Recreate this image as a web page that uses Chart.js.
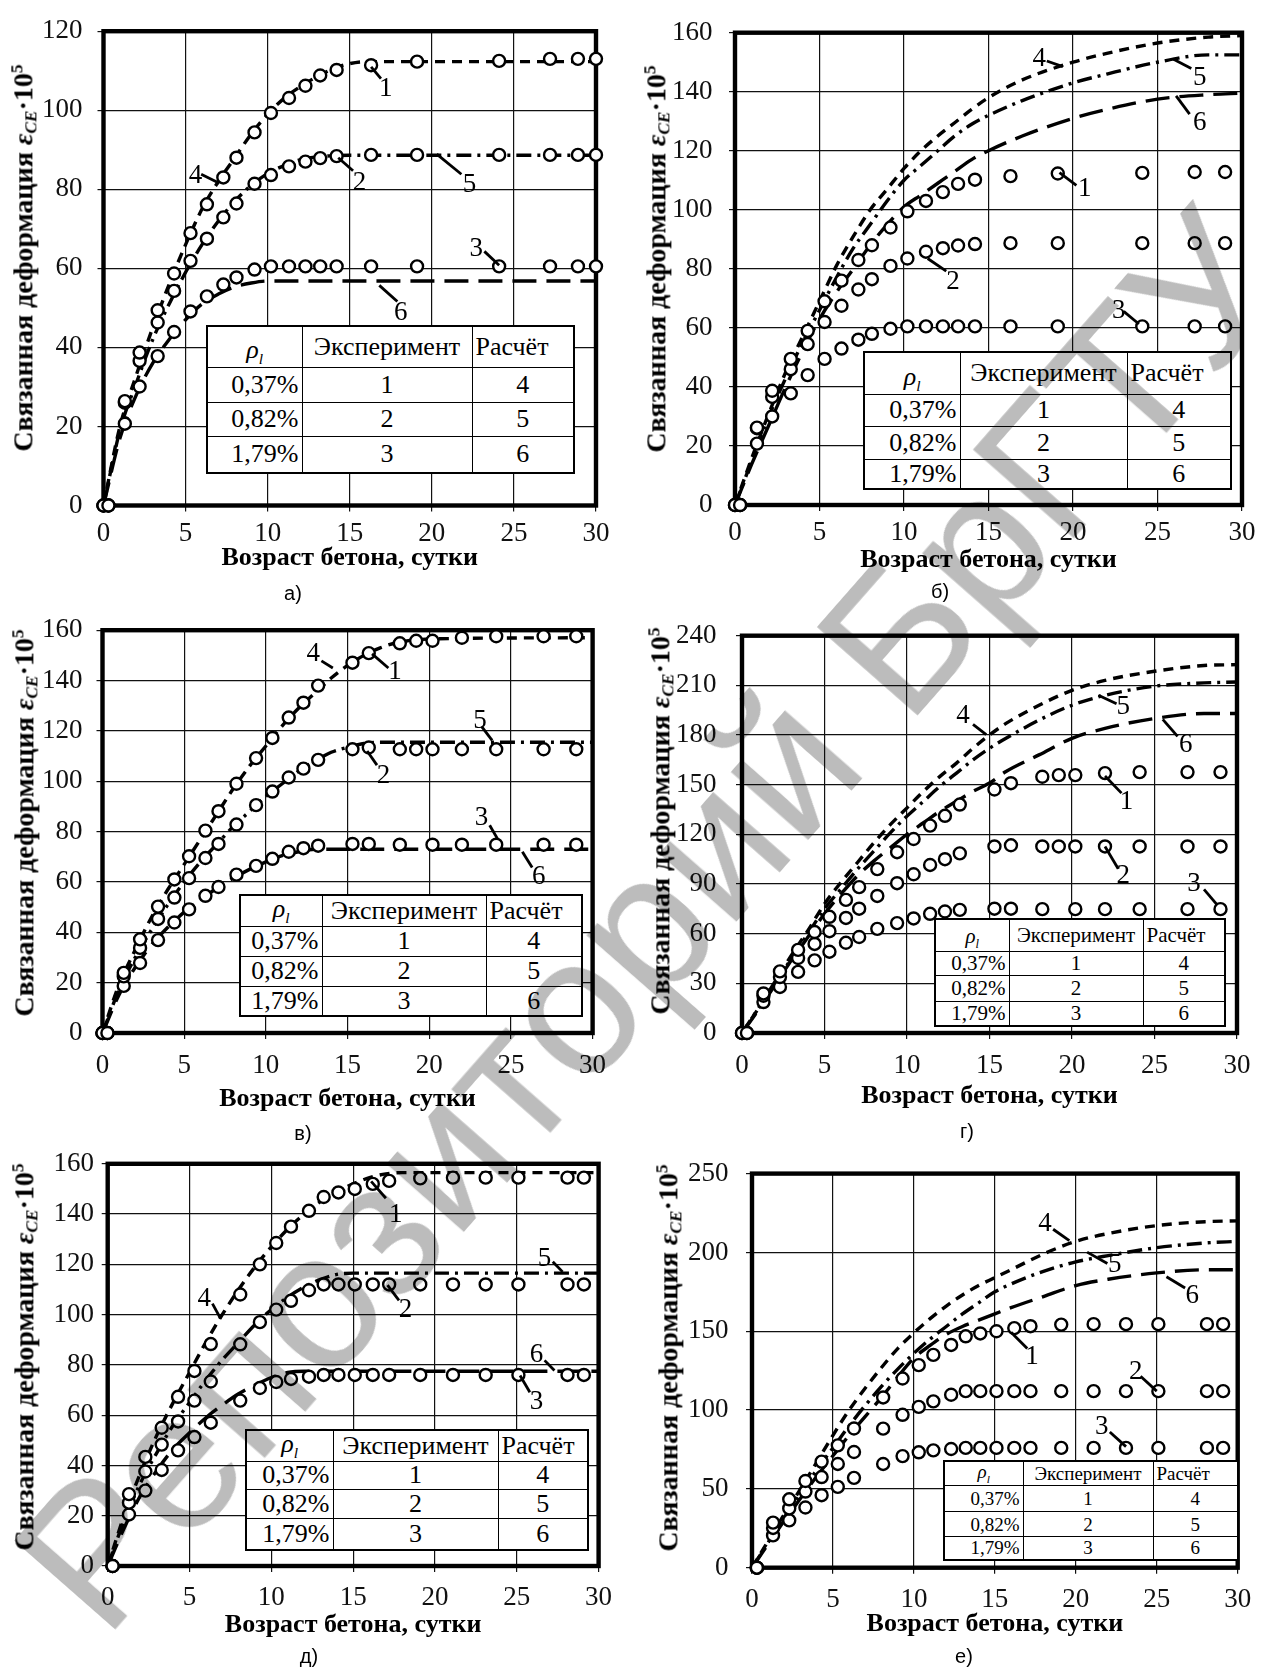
<!DOCTYPE html>
<html><head><meta charset="utf-8">
<script src="https://cdn.jsdelivr.net/npm/chart.js@4.4.1/dist/chart.umd.min.js"></script>
<style>
html,body{margin:0;padding:0;background:#fff}
body{width:1261px;height:1670px;position:relative;overflow:hidden;font-family:'Liberation Serif','Times New Roman',serif;color:#000}
canvas{position:absolute}
.yt{position:absolute;transform:translate(-50%,-50%) rotate(-90deg);white-space:nowrap;font-weight:bold;font-size:28px;line-height:1}
.yt sub{font-size:0.62em;vertical-align:-0.25em}
.yt sup{font-size:0.62em;vertical-align:0.55em}
table.leg{position:absolute;border-collapse:collapse;background:#fff;table-layout:fixed;border:2.5px solid #000}
table.leg td{border:1.5px solid #000;padding:0 3px;line-height:1;white-space:nowrap;overflow:hidden}
table.leg td.r{text-align:right}
table.leg td.c{text-align:center}
table.leg td.l{text-align:left}
table.leg td.h{text-align:center;vertical-align:bottom;font-style:italic}
table.leg sub{font-size:0.6em}
.pl{position:absolute;transform:translate(-50%,-50%);font-family:'Liberation Sans Narrow','Liberation Sans',Arial,sans-serif;font-size:20px}
.wm{position:absolute;transform:translate(-50%,-50%) rotate(-48.7deg);white-space:nowrap;font-family:'Liberation Sans',Arial,sans-serif;font-size:195px;color:#bcbcbc;mix-blend-mode:multiply;pointer-events:none;line-height:1}
</style></head>
<body>
<script>
// ---------- DATA ----------
const xTicks = [0,5,10,15,20,25,30];
const rowLabels = ['0,37%','0,82%','1,79%'];
const expNums = ['1','2','3'];
const calcNums = ['4','5','6'];

// panel а)
const daysA = [0,0.3,1.3,2.2,3.3,4.3,5.3,6.3,7.3,8.1,9.2,10.2,11.3,12.3,13.2,14.2,16.3,19.1,24.1,27.2,28.9,30];
const expA1 = [0,0,26.4,38.7,49.4,58.7,68.9,76.2,83,88,94.4,99.3,103.1,106.2,108.8,110.2,111.4,112.3,112.5,113,113,113];
const expA2 = [0,0,26,36.6,46.3,54.3,61.9,67.5,72.9,76.4,81.4,83.6,85.8,87,87.9,88.4,88.7,88.7,88.7,88.7,88.7,88.7];
const expA3 = [0,0,20.7,30.1,37.8,43.9,49.1,52.9,55.9,57.7,59.7,60.5,60.5,60.5,60.5,60.5,60.5,60.5,60.5,60.5,60.5,60.5];
const calcDaysA = [0,1,2,3,4,5,6,7,8,9,10,11,12,13,14,15,16,30];
const calcA4 = [0,20,33,45,56,66,75,82,88,94,99,103,106,108.5,110.5,111.8,112.3,112.3];
const calcA5 = [0,19,31,42,51,59,66,72,77,81,84,86,87.5,88.2,88.5,88.6,88.6,88.6];
const calcDaysA6 = [0,1,2,3,4,5,6,7,8,9,10,11,30];
const calcA6 = [0,17,28,36,42,47,51,53.5,55.3,56.3,56.8,56.8,56.8];

// panel б)
const daysB = [0,0.3,1.3,2.2,3.3,4.3,5.3,6.3,7.3,8.1,9.2,10.2,11.3,12.3,13.2,14.2,16.3,19.1,24.1,27.2,29];
const expB1 = [0,0,26.2,38.7,49.5,59,69,76,83,88,94,99.5,103,106,108.8,110.2,111.4,112.3,112.5,112.8,112.8];
const expB2 = [0,0,26,36.6,46,54.5,62,67.5,73,76.5,81,83.5,85.8,87,87.9,88.4,88.7,88.7,88.7,88.7,88.7];
const expB3 = [0,0,20.8,30,37.8,44,49.5,53,56,58,59.7,60.5,60.5,60.5,60.5,60.5,60.5,60.5,60.5,60.5,60.5];
const calcDaysB = [0,1,2,3,4,5,6,7,8,9,10,11,12,13,14,15,17,20,22,25,28,30];
const calcB4 = [0,16,31,45,57,69,81,91,100,107,114,120,125,129.5,134,138,144,150,153,156.5,158.5,159];
const calcB5 = [0,15,30,43,55,66,77,87,95,103,110,115,120,125,129,132,137,143,146,150,152.5,152.5];
const calcB6 = [0,14,27,40,52,63,72,80,88,95,101,105,109,113,117,120,125,131,134,137.5,139,139.5];

// panels в) and г) (same experiment)
const daysC = [0,0.3,1.3,2.3,3.4,4.4,5.3,6.3,7.1,8.2,9.4,10.4,11.4,12.3,13.2,15.3,16.3,18.2,19.2,20.2,22,24.1,27,29];
const expC1 = [0,0,23.9,37.2,50.2,61,70.2,80.4,88.1,99,109.2,117.2,125.3,131.2,138,147.1,150.9,154.8,155.8,155.8,157,157.6,157.6,157.6];
const expC2 = [0,0,22.5,33.8,45.3,53.8,61.5,69.5,75.1,82.8,90.5,95.9,101.5,105,108.5,112.7,113.4,112.7,112.7,112.7,112.7,112.7,112.7,112.7];
const expC3 = [0,0,18.7,27.8,36.9,43.9,49.1,54.5,58,62.9,66.4,69.2,72,73.4,74.4,75.1,75.1,74.8,null,74.8,74.8,74.8,74.8,74.8];
const calcDaysC = [0,1,2,3,4,5,6,7,8,9,10,11,12,13,14,15,16,17,18,20,30];
const calcC4 = [0,19,33,46,57,67,77,87,97,106,114,122,129,135,141,146,150,153,155,156.5,157];
const calcC5 = [0,17,30,41,51,60,68,75,82,88,94,99,104,108,111.5,113.5,115,115.5,115.5,115.5,115.5];
const calcC6 = [0,15,26,35,42,48,53,57.5,61.5,65,68,70.5,72,73,73,73,73,73,73,73,73];

const calcDaysD = [0,1,2,3,4,5,6,7,8,9,10,11,12,13,14,15,16,18,20,22,25,28,30];
const calcD4 = [0,15,31,47,62,78,91,103,115,126,136,146,155,163,172,180,187,198,207,213,218.5,222,222.5];
const calcD5 = [0,15,30,45,60,75,87,99,110,121,131,140,149,157,165,172,178,189,198,204,209.5,211.5,212];
const calcD6 = [0,14,29,44,58,72,84,95,104,112,120,127,134,140,146,151,158,168,178,184,190,193,193];

// panels д) and е) (same experiment)
const daysE = [0.3,1.3,2.3,3.3,4.3,5.3,6.3,8.1,9.3,10.3,11.2,12.3,13.2,14.1,15.1,16.2,17.2,19.1,21.1,23.1,25.1,28.1,29.1];
const expE1 = [0,28.6,43.4,55,67.3,77.6,88.3,108,120,128.5,135,141.3,146.8,148.6,150,152,153.2,154.2,154.5,154.5,154.5,154.5,154.5];
const expE2 = [0,25.2,37.6,48.3,57.5,65.8,73.4,88.2,97,102,105.5,109.7,112,112,112,112,112,112,112,112,112,112,112];
const expE3 = [0,20.5,30,38.2,46,51.3,57,65.8,70.8,73.2,74.4,75.3,76,76,76,76,76,76,76,76,76,76,76];
const calcDaysE = [0,1,2,3,4,5,6,7,8,9,10,11,12,13,14,15,16,17,18,30];
const calcE4 = [0,20,37,52,65,77,89,100,110,119,127,134,140,145,149,152,154.5,156,156.5,156.5];
const calcE5 = [0,18,33,45,56,65,74,82,89,96,102,107,111,114,116,116.5,116.5,116.5,116.5,116.5];
const calcE6 = [0,15,28,38,46.5,53,59,64,68.5,72,75,77,77.5,77.5,77.5,77.5,77.5,77.5,77.5,77.5];

const calcDaysF = [0,1,2,3,4,5,6,7,8,9,10,11,12,13,14,15,16,18,20,22,25,28,30];
const calcF4 = [0,17,34,50,67,84,100,114,127,139,149,158,166,173,179,184,189,199,207,212,217,219.5,220];
const calcF5 = [0,16,32,47,62,76,90,103,115,126,136,145,153,161,168,175,180,188,194,198,203,206,207];
const calcF6 = [0,15,30,44,58,71,84,96,108,121,133,141,148,153,157,161,165,172,179,183,187,189,189];

// curve number labels: [text, labelX, labelY, leaderX1, leaderY1, leaderX2, leaderY2] in data units
const notesA = [['1',17.2,105.5,16.3,111,16.9,108],['2',15.6,81.5,14.3,88,15.2,84.7],['3',22.7,65,23.2,64.3,24.1,60.8],
  ['4',5.6,83.3,5.95,83.8,7.06,81.5],['5',22.3,81,20.3,88.9,21.8,83.8],['6',18.1,48.8,16.8,55.7,17.9,51.6]];
const notesB = [['4',18,151,18.45,150.4,19.4,148.5],['5',27.5,144.8,25.95,151,27,147.9],['6',27.5,129.3,26.1,138.6,26.9,132.4],
  ['1',20.7,107,19.2,112.6,20.2,108.3],['2',12.9,75.5,11.4,83.5,12.5,79.2],['3',22.7,65.6,23,65.6,23.9,61.3]];
const notesC = [['4',12.9,150.6,13.4,147.8,14.1,145],['1',17.9,143.6,16.5,150.6,17.5,145],['5',23.1,124,23.2,121.8,23.85,116.2],
  ['2',17.2,102,16.2,112,16.8,106.4],['3',23.2,85.3,23.7,82.5,24.2,76.9],['6',26.7,62.2,25.7,72,26.3,65.7]];
const notesD = [['4',13.4,191.6,14,186.4,14.8,180.2],['5',23.1,196.8,21.6,204,22.7,198.9],['6',26.9,174,25.5,189.5,26.4,179.2],
  ['1',23.3,139.7,22,155.3,23,144.9],['2',23.1,95,22,112.7,22.8,99.2],['3',27.4,89.9,28,86.8,28.8,77.4]];
const notesE = [['1',17.6,139.6,16.1,153,17,146.3],['4',5.9,106.4,6.4,104.4,6.9,98.4],['5',26.7,122.3,27.2,121,27.8,117],
  ['2',18.2,101.7,17.1,111.7,17.8,105.7],['6',26.2,83.8,26.7,81.8,27.3,77.8],['3',26.2,65.2,25.2,75.8,25.8,69.1]];
const notesF = [['4',18.1,217.8,18.6,214.7,19.6,207.5],['5',22.4,191.9,20.7,200.2,21.95,193],['6',27.2,172.2,25.6,184.6,26.75,177.4],
  ['1',17.3,133.8,16,149.4,17,139],['2',23.7,124.5,24,121.4,25,112],['3',21.6,89.2,22.1,86.1,23.1,76.8]];

// ---------- LAYOUT (page pixels) ----------
const SERIF = "'Liberation Serif','Times New Roman',serif";
const panels = [
 {tag:'а)', tagXY:[293,593], box:[0,0,630,600], area:[103.5,23,596,505.5], ymax:120, ystep:20, ygap:21, xtick:28, xtitle:53, ytitleX:24,
  days:[daysA,daysA,daysA], exp:[expA1,expA2,expA3], cdays:[calcDaysA,calcDaysA,calcDaysA6], calc:[calcA4,calcA5,calcA6], notes:notesA,
  table:{r:[206,325,573,472], cols:[301,471], rows:[366,401,435], fs:26}},
 {tag:'б)', tagXY:[940,591], box:[630,0,631,600], area:[735,25,1242,505], ymax:160, ystep:20, ygap:22.5, xtick:27.7, xtitle:55.5, ytitleX:657,
  days:[daysB,daysB,daysB], exp:[expB1,expB2,expB3], cdays:[calcDaysB,calcDaysB,calcDaysB], calc:[calcB4,calcB5,calcB6], notes:notesB,
  table:{r:[863,351,1230,488], cols:[959,1126], rows:[393,425,458], fs:26}},
 {tag:'в)', tagXY:[303,1133], box:[0,600,630,560], area:[102.5,625.7,592.6,1033], ymax:160, ystep:20, ygap:20, xtick:32.7, xtitle:66, ytitleX:25,
  days:[daysC,daysC,daysC], exp:[expC1,expC2,expC3], cdays:[calcDaysC,calcDaysC,calcDaysC], calc:[calcC4,calcC5,calcC6], notes:notesC,
  table:{r:[239,894,581,1014], cols:[321,485], rows:[924,954,984], fs:26}},
 {tag:'г)', tagXY:[967,1131], box:[630,600,631,560], area:[742,620,1245,1033], ymax:240, ystep:30, ygap:25.5, xtick:32.7, xtitle:63, ytitleX:661,
  days:[daysC,daysC,daysC], exp:[expC1,expC2,expC3], cdays:[calcDaysD,calcDaysD,calcDaysD], calc:[calcD4,calcD5,calcD6], notes:notesD,
  table:{r:[934,918,1224,1025], cols:[1008,1142], rows:[950,974,1000], fs:21}},
 {tag:'д)', tagXY:[309,1656], box:[0,1140,630,530], area:[107.7,1159.3,598.6,1566], ymax:160, ystep:20, ygap:13.6, xtick:32, xtitle:59, ytitleX:25,
  days:[daysE,daysE,daysE], exp:[expE1,expE2,expE3], cdays:[calcDaysE,calcDaysE,calcDaysE], calc:[calcE4,calcE5,calcE6], notes:notesE,
  table:{r:[245,1429,587,1549], cols:[332,497], rows:[1460,1488,1517], fs:26}},
 {tag:'е)', tagXY:[964,1656], box:[630,1140,631,530], area:[752,1160.3,1242.5,1567.7], ymax:250, ystep:50, ygap:23.4, xtick:32, xtitle:57, ytitleX:669,
  days:[daysE,daysE,daysE], exp:[expE1,expE2,expE3], cdays:[calcDaysF,calcDaysF,calcDaysF], calc:[calcF4,calcF5,calcF6], notes:notesF,
  table:{r:[943,1460,1237,1557], cols:[1022,1152], rows:[1483,1509,1534], fs:19}}
];

const dashes = [[10,7],[15,6,3,6],[24,10]];

const framePlugin = {
  id:'frame',
  beforeDatasetsDraw(chart){
    const {ctx, chartArea:a} = chart;
    ctx.save(); ctx.lineWidth = 4.4; ctx.strokeStyle = '#000';
    ctx.strokeRect(a.left, a.top, a.right-a.left, a.bottom-a.top);
    ctx.restore();
  }
};
const notesPlugin = {
  id:'notes',
  afterDatasetsDraw(chart, args, opts){
    const {ctx} = chart; const xs = chart.scales.x, ys = chart.scales.y;
    ctx.save();
    ctx.strokeStyle = '#000'; ctx.lineWidth = 2.8; ctx.fillStyle = '#000';
    ctx.font = "27px " + SERIF; ctx.textAlign = 'center'; ctx.textBaseline = 'middle';
    (opts.items||[]).forEach(n => {
      ctx.beginPath();
      ctx.moveTo(xs.getPixelForValue(n[3]), ys.getPixelForValue(n[4]));
      ctx.lineTo(xs.getPixelForValue(n[5]), ys.getPixelForValue(n[6]));
      ctx.stroke();
      ctx.fillText(n[0], xs.getPixelForValue(n[1]), ys.getPixelForValue(n[2]));
    });
    ctx.restore();
  }
};

function pts(xs, ys){ const o=[]; xs.forEach((x,i)=>{ if(ys[i]!==null && ys[i]!==undefined) o.push({x:x,y:ys[i]}); }); return o; }

panels.forEach(p => {
  const [bx,by,bw,bh] = p.box;
  const al = p.area[0]-bx, at = p.area[1]-by, ar = p.area[2]-bx, ab = p.area[3]-by;
  const cv = document.createElement('canvas');
  cv.width = bw; cv.height = bh; cv.style.left = bx+'px'; cv.style.top = by+'px';
  cv.style.width = bw+'px'; cv.style.height = bh+'px';
  document.body.appendChild(cv);
  const H = p.xtitle + 15.6;
  const datasets = [];
  for (let k=0;k<3;k++){
    datasets.push({label:'exp'+(k+1), data:pts(p.days[k], p.exp[k]), showLine:false, order:0,
      pointRadius:6, pointBorderWidth:2.4, pointBackgroundColor:'#fff', pointBorderColor:'#000', clip:false});
  }
  for (let k=0;k<3;k++){
    datasets.push({label:'calc'+(k+4), data:pts(p.cdays[k], p.calc[k]), showLine:true, order:1,
      borderColor:'#000', borderWidth:3.4, borderDash:dashes[k], pointRadius:0, cubicInterpolationMode:'monotone', fill:false, clip:false});
  }
  new Chart(cv, {
    type:'scatter',
    data:{datasets},
    options:{
      responsive:false, animation:false, devicePixelRatio:1, events:[],
      layout:{padding:{left:0, top:at, right:bw-ar, bottom:bh-ab-H}},
      plugins:{legend:{display:false}, tooltip:{enabled:false}, notes:{items:p.notes}},
      scales:{
        x:{type:'linear', min:0, max:30, afterFit:s=>{s.height=H;},
           afterBuildTicks:s=>{s.ticks = xTicks.map(v=>({value:v}));},
           ticks:{color:'#111', font:{family:SERIF,size:27}, padding:p.xtick-6-16.2, maxRotation:0, autoSkip:false},
           grid:{color:'#111', lineWidth:1.2, tickLength:6, drawTicks:true},
           border:{display:false},
           title:{display:true, text:'Возраст бетона, сутки', color:'#000', font:{family:SERIF,size:26,weight:'bold'}, padding:{top:0,bottom:0}}},
        y:{type:'linear', min:0, max:p.ymax, afterFit:s=>{s.width=al;},
           ticks:{stepSize:p.ystep, color:'#111', font:{family:SERIF,size:27}, padding:p.ygap-6, autoSkip:false},
           grid:{color:'#111', lineWidth:1.2, tickLength:6, drawTicks:true},
           border:{display:false}}
      }
    },
    plugins:[framePlugin, notesPlugin]
  });

  // y title
  const yt = document.createElement('div');
  yt.className = 'yt';
  yt.style.left = p.ytitleX+'px'; yt.style.top = ((p.area[1]+p.area[3])/2 - 6)+'px';
  yt.innerHTML = 'Связанная деформация <i>ε</i><sub><i>CE</i></sub>·10<sup>5</sup>';
  document.body.appendChild(yt);

  // table
  const t = p.table;
  const tb = document.createElement('table');
  tb.className = 'leg';
  tb.style.left = t.r[0]+'px'; tb.style.top = t.r[1]+'px';
  tb.style.width = (t.r[2]-t.r[0])+'px'; tb.style.height = (t.r[3]-t.r[1])+'px';
  tb.style.fontSize = t.fs+'px';
  const cw = [t.cols[0]-t.r[0], t.cols[1]-t.cols[0], t.r[2]-t.cols[1]];
  const rh = [t.rows[0]-t.r[1], t.rows[1]-t.rows[0], t.rows[2]-t.rows[1], t.r[3]-t.rows[2]];
  let html = '<colgroup>' + cw.map(w=>'<col style="width:'+w+'px">').join('') + '</colgroup>';
  html += '<tr style="height:'+rh[0]+'px"><td class="h">ρ<sub>l</sub></td><td class="c">Эксперимент</td><td class="l">Расчёт</td></tr>';
  for (let i=0;i<3;i++) html += '<tr style="height:'+rh[i+1]+'px"><td class="r">'+rowLabels[i]+'</td><td class="c">'+expNums[i]+'</td><td class="c">'+calcNums[i]+'</td></tr>';
  tb.innerHTML = html;
  document.body.appendChild(tb);

  // panel tag
  const pl = document.createElement('div');
  pl.className = 'pl'; pl.textContent = p.tag;
  pl.style.left = p.tagXY[0]+'px'; pl.style.top = p.tagXY[1]+'px';
  document.body.appendChild(pl);
});

const wm = document.createElement('div');
wm.className = 'wm'; wm.textContent = 'Репозиторий БрГТУ';
wm.style.left = '648px'; wm.style.top = '920px';
document.body.appendChild(wm);
</script>
</body></html>
